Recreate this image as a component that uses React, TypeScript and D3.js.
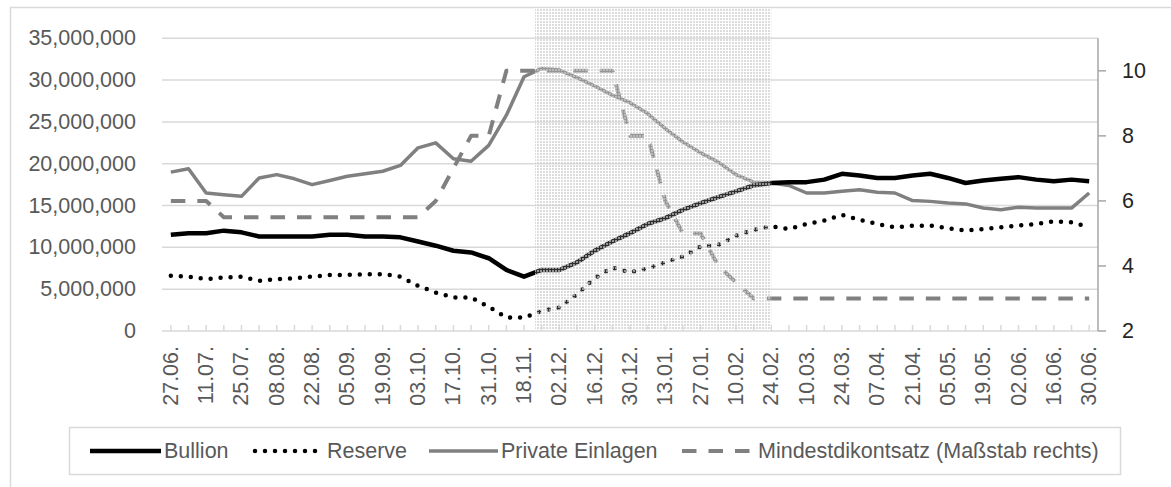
import React from "react";
import * as d3 from "d3";

const categories = [
  "27.06.", "04.07.", "11.07.", "18.07.", "25.07.", "01.08.", "08.08.", "15.08.", "22.08.", "29.08.",
  "05.09.", "12.09.", "19.09.", "26.09.", "03.10.", "10.10.", "17.10.", "24.10.", "31.10.", "11.11.",
  "18.11.", "25.11.", "02.12.", "09.12.", "16.12.", "23.12.", "30.12.", "06.01.", "13.01.", "20.01.",
  "27.01.", "03.02.", "10.02.", "17.02.", "24.02.", "03.03.", "10.03.", "17.03.", "24.03.", "31.03.",
  "07.04.", "14.04.", "21.04.", "28.04.", "05.05.", "12.05.", "19.05.", "26.05.", "02.06.", "09.06.",
  "16.06.", "23.06.", "30.06.",
];

const bullion = [
  11500000, 11700000, 11700000, 12000000, 11800000, 11300000, 11300000, 11300000, 11300000, 11500000,
  11500000, 11300000, 11300000, 11200000, 10700000, 10200000, 9600000, 9400000, 8700000, 7300000,
  6500000, 7300000, 7300000, 8200000, 9600000, 10700000, 11700000, 12800000, 13500000, 14500000,
  15300000, 16000000, 16700000, 17400000, 17700000, 17800000, 17800000, 18100000, 18800000, 18600000,
  18300000, 18300000, 18600000, 18800000, 18300000, 17700000, 18000000, 18200000, 18400000, 18100000,
  17900000, 18100000, 17900000,
];

const reserve = [
  6600000, 6500000, 6200000, 6400000, 6500000, 6000000, 6200000, 6300000, 6500000, 6700000,
  6700000, 6800000, 6800000, 6500000, 5400000, 4600000, 4000000, 4000000, 2900000, 1600000,
  1600000, 2400000, 2800000, 4400000, 6300000, 7600000, 7000000, 7500000, 8200000, 8900000,
  10100000, 10300000, 11400000, 12100000, 12500000, 12200000, 12800000, 13200000, 13900000, 13300000,
  12800000, 12400000, 12600000, 12600000, 12300000, 12000000, 12200000, 12400000, 12600000, 12800000,
  13100000, 13000000, 12400000,
];

const privateEinlagen = [
  19000000, 19400000, 16500000, 16300000, 16100000, 18300000, 18700000, 18200000, 17500000, 18000000,
  18500000, 18800000, 19100000, 19800000, 21900000, 22500000, 20600000, 20300000, 22200000, 25800000,
  30400000, 31400000, 31200000, 30300000, 29300000, 28200000, 27300000, 26000000, 24200000, 22600000,
  21300000, 20200000, 18700000, 17800000, 17700000, 17400000, 16500000, 16500000, 16700000, 16900000,
  16600000, 16500000, 15600000, 15500000, 15300000, 15200000, 14700000, 14500000, 14800000, 14700000,
  14700000, 14700000, 16500000,
];

const discountRate = [
  6, 6, 6, 5.5, 5.5, 5.5, 5.5, 5.5, 5.5, 5.5,
  5.5, 5.5, 5.5, 5.5, 5.5, 6, 7, 8, 8, 10,
  10, 10, 10, 10, 10, 10, 8, 8, 6, 5,
  5, 4, 3.5, 3, 3, 3, 3, 3, 3, 3,
  3, 3, 3, 3, 3, 3, 3, 3, 3, 3,
  3, 3, 3,
];

const leftTicks = [0, 5000000, 10000000, 15000000, 20000000, 25000000, 30000000, 35000000];
const rightTicks = [2, 4, 6, 8, 10];
// shaded crisis period, as positions on the category index scale
const shadeRange = [20.62, 34.0];

const legendItems = [
  { key: "bullion", label: "Bullion" },
  { key: "reserve", label: "Reserve" },
  { key: "private", label: "Private Einlagen" },
  { key: "rate", label: "Mindestdikontsatz (Maßstab rechts)" },
];

const W = 1171;
const H = 487;
const PL = 162;
const PR = 1098;
const PT = 38.3;
const PB = 331;
const FONT = "'Liberation Sans', Arial, sans-serif";
const FS = 21.5;

const styles: Record<string, any> = {
  bullion: { stroke: "#000000", strokeWidth: 4.5 },
  reserve: { stroke: "#000000", strokeWidth: 4.5, strokeDasharray: "0 10", strokeLinecap: "round" },
  private: { stroke: "#808080", strokeWidth: 3.5 },
  rate: { stroke: "#808080", strokeWidth: 4, strokeDasharray: "14.5 12" },
};

export default function App() {
  const x = d3.scalePoint<string>().domain(categories).range([PL, PR]).padding(0.5);
  const step = x.step();
  const x0 = x(categories[0]) as number;
  const xi = (i: number) => x0 + i * step;
  const yL = d3.scaleLinear().domain([0, 35000000]).range([PB, PT]);
  const yR = d3.scaleLinear().domain([2, 11]).range([PB, PT]);
  const fmt = d3.format(",");

  const lineL = d3
    .line<number>()
    .x((_, i) => x(categories[i]) as number)
    .y((d) => yL(d));
  const lineR = d3
    .line<number>()
    .x((_, i) => x(categories[i]) as number)
    .y((d) => yR(d));

  const legendLayout = [
    { lx0: 90, lx1: 161, tx: 164 },
    { lx0: 255, lx1: 321, tx: 327 },
    { lx0: 429, lx1: 498, tx: 501 },
    { lx0: 682, lx1: 753, tx: 758 },
  ];
  const LY = 451;

  return (
    <svg
      width={W}
      height={H}
      style={{ position: "absolute", left: 0, top: 0, display: "block", background: "#fff" }}
      fontFamily={FONT}
    >
      <defs>
        <pattern id="shade" width="3" height="3" patternUnits="userSpaceOnUse">
          <rect width="3" height="3" fill="#ffffff" fillOpacity={0.18} />
          <rect x="0" y="0" width="2" height="2" fill="#cacaca" fillOpacity={0.65} />
        </pattern>
      </defs>
      <rect x={0} y={0} width={W} height={H} fill="#ffffff" />
      <rect x={10.5} y={7.5} width={W + 50} height={H + 50} fill="none" stroke="#d9d9d9" strokeWidth={1.5} />

      {/* gridlines */}
      {leftTicks.map((t) => (
        <line key={"g" + t} x1={PL} x2={PR} y1={yL(t)} y2={yL(t)} stroke="#d9d9d9" strokeWidth={1.5} />
      ))}
      {/* category ticks */}
      {categories.map((c) => (
        <line
          key={"t" + c}
          x1={x(c) as number}
          x2={x(c) as number}
          y1={PB}
          y2={PB - 6}
          stroke="#d9d9d9"
          strokeWidth={1.5}
        />
      ))}

      {/* left axis labels */}
      {leftTicks.map((t) => (
        <text
          key={"l" + t}
          x={136}
          y={yL(t)}
          textAnchor="end"
          dominantBaseline="central"
          fontSize={FS}
          fill="#595959"
        >
          {fmt(t)}
        </text>
      ))}

      {/* right axis */}
      <line x1={PR} x2={PR} y1={PT} y2={PB} stroke="#a6a6a6" strokeWidth={1.5} />
      {rightTicks.map((t) => (
        <g key={"r" + t}>
          <line x1={PR} x2={PR + 8} y1={yR(t)} y2={yR(t)} stroke="#a6a6a6" strokeWidth={1.5} />
          <text x={1122} y={yR(t)} dominantBaseline="central" fontSize={FS} fill="#262626">
            {t}
          </text>
        </g>
      ))}

      {/* x labels */}
      {categories.map((c, i) =>
        i % 2 === 0 ? (
          <text
            key={"x" + c}
            transform={`translate(${x(c)},346) rotate(-90)`}
            textAnchor="end"
            dominantBaseline="central"
            fontSize={FS}
            fill="#595959"
          >
            {c}
          </text>
        ) : null
      )}

      {/* series */}
      <g fill="none" strokeLinejoin="round">
        <path d={lineR(discountRate) || ""} {...styles.rate} />
        <path d={lineL(privateEinlagen) || ""} {...styles.private} />
        <path d={lineL(reserve) || ""} {...styles.reserve} />
        <path d={lineL(bullion) || ""} {...styles.bullion} />
      </g>

      {/* shaded period overlay */}
      <rect
        x={xi(shadeRange[0])}
        y={8.3}
        width={xi(shadeRange[1]) - xi(shadeRange[0])}
        height={PB - 8.3 - 1}
        fill="url(#shade)"
      />

      {/* legend */}
      <rect x={69.5} y={427.5} width={1051} height={47} fill="#ffffff" stroke="#d9d9d9" strokeWidth={1.5} />
      {legendItems.map((it, i) => {
        const L = legendLayout[i];
        return (
          <g key={it.key}>
            <line x1={L.lx0} x2={L.lx1} y1={LY} y2={LY} {...styles[it.key]} />
            <text x={L.tx} y={LY} dominantBaseline="central" fontSize={FS} fill="#595959">
              {it.label}
            </text>
          </g>
        );
      })}
    </svg>
  );
}
